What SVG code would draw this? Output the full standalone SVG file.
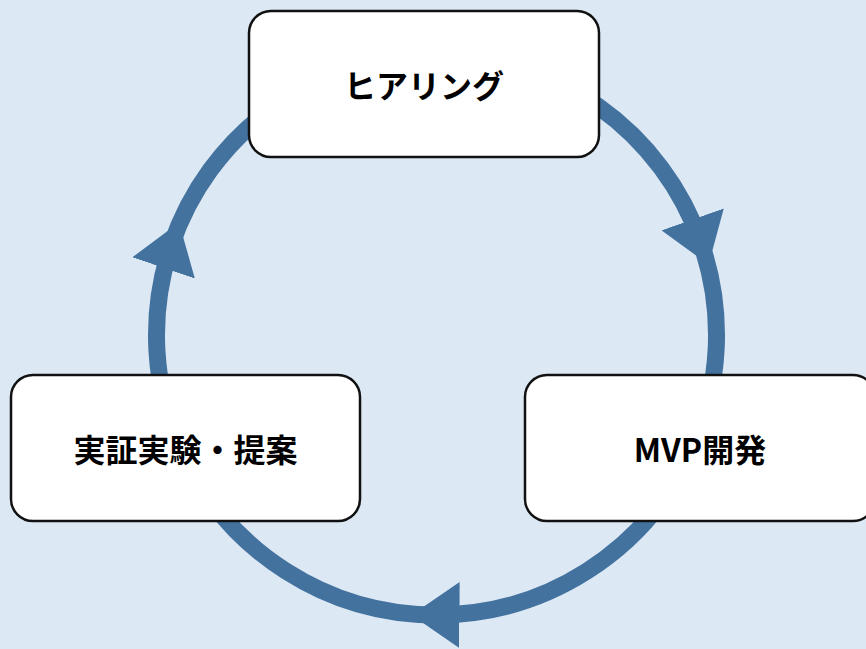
<svg xmlns="http://www.w3.org/2000/svg" width="866" height="649" viewBox="0 0 866 649">
  <style>
    .bg { fill: #dce8f4; }
    .arc { fill: none; stroke: #44729f; stroke-width: 17; marker-mid: url(#head); }
    .box { fill: #ffffff; stroke: #111111; stroke-width: 2.5; }
    .label { font-family: "Noto Sans CJK JP", "Noto Sans", sans-serif; font-weight: 700; font-size: 32px; fill: #000000; text-anchor: middle; dominant-baseline: central; }
  </style>
  <defs>
    <marker id="head" markerUnits="userSpaceOnUse" viewBox="-24 -33 48 66" markerWidth="48" markerHeight="66" refX="0" refY="0" orient="auto">
      <path d="M-24,-33 L24,0 L-24,33 Z" fill="#44729f"/>
    </marker>
  </defs>
  <rect class="bg" x="0" y="0" width="866" height="649"/>
  <g id="connectors">
    <path class="arc" d="M436.5,55 A280,280 0 0 1 700.6,242 A280,280 0 0 1 690.3,453.3"/>
    <path class="arc" d="M690.3,453.3 A280,280 0 0 1 435.5,615 A280,280 0 0 1 182.7,453.3"/>
    <path class="arc" d="M182.7,453.3 A280,280 0 0 1 171.3,245.2 A280,280 0 0 1 436.5,55"/>
  </g>
  <g id="node-hearing">
    <rect class="box" x="249" y="11" width="350" height="146" rx="22" ry="22"/>
    <text class="label" x="424" y="84">ヒアリング</text>
  </g>
  <g id="node-mvp">
    <rect class="box" x="525" y="375" width="350" height="146" rx="22" ry="22"/>
    <text class="label" x="700" y="448">MVP開発</text>
  </g>
  <g id="node-poc">
    <rect class="box" x="11" y="375" width="349" height="146" rx="22" ry="22"/>
    <text class="label" x="185.5" y="448">実証実験・提案</text>
  </g>
</svg>
